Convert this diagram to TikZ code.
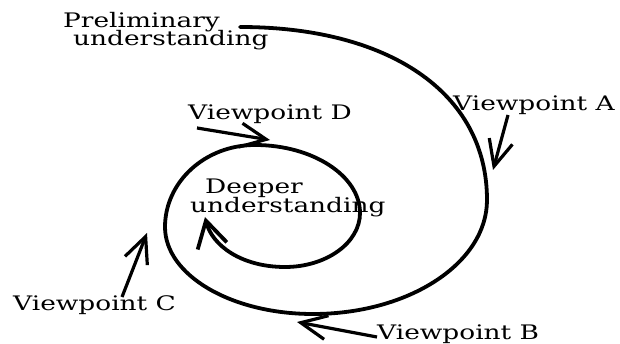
\documentclass[tikz,border=0pt]{standalone}
\usepackage{fontspec}
\setmainfont[FakeStretch=1.32]{DejaVu Serif}
\usetikzlibrary{arrows.meta}
\tikzset{
  lbl/.style={inner sep=0pt, anchor=base west, font=\fontsize{20}{15}\selectfont},
  spiral/.style={line width=3.8pt, line cap=round},
  pointer/.style={line width=3.2pt, -{Straight Barb[length=26pt,width=24pt]}},
}
\begin{document}
\begin{tikzpicture}[x=1pt,y=-1pt]
\useasboundingbox (0,0) rectangle (620,344);
% labels
\node[lbl] (prelimA) at (63,28) {Preliminary};
\node[lbl] (prelimB) at (73,46) {understanding};
\node[lbl] (vpA) at (453,111) {Viewpoint A};
\node[lbl] (vpD) at (188,120) {Viewpoint D};
\node[lbl] (deepA) at (205,194) {Deeper};
\node[lbl] (deepB) at (190,213) {understanding};
\node[lbl] (vpC) at (13,310) {Viewpoint C};
\node[lbl] (vpB) at (377,339) {Viewpoint B};
% spiral
\draw[spiral, -{Straight Barb[length=26pt,width=30pt]}]
  (240,27) .. controls (388,27) and (487,92) .. (487,200)
           .. controls (487,263) and (409,314) .. (313,314)
           .. controls (231,314) and (165,275) .. (165,227)
           .. controls (165,182) and (205,145) .. (255,145)
           .. controls (313,145) and (360,176) .. (360,213)
           .. controls (360,243) and (326,267) .. (285,267)
           .. controls (241,267) and (212,245) .. (205,217);
% pointer arrows
\coordinate (aTail) at (508,115); \coordinate (aTip) at (493,170);
\coordinate (bTail) at (377,337); \coordinate (bTip) at (297,322);
\coordinate (cTail) at (122,297); \coordinate (cTip) at (147,233);
\coordinate (dTail) at (197,128); \coordinate (dTip) at (270,140);
\draw[pointer] (aTail) -- (aTip);
\draw[pointer] (bTail) -- (bTip);
\draw[pointer] (cTail) -- (cTip);
\draw[pointer] (dTail) -- (dTip);
\end{tikzpicture}
\end{document}
